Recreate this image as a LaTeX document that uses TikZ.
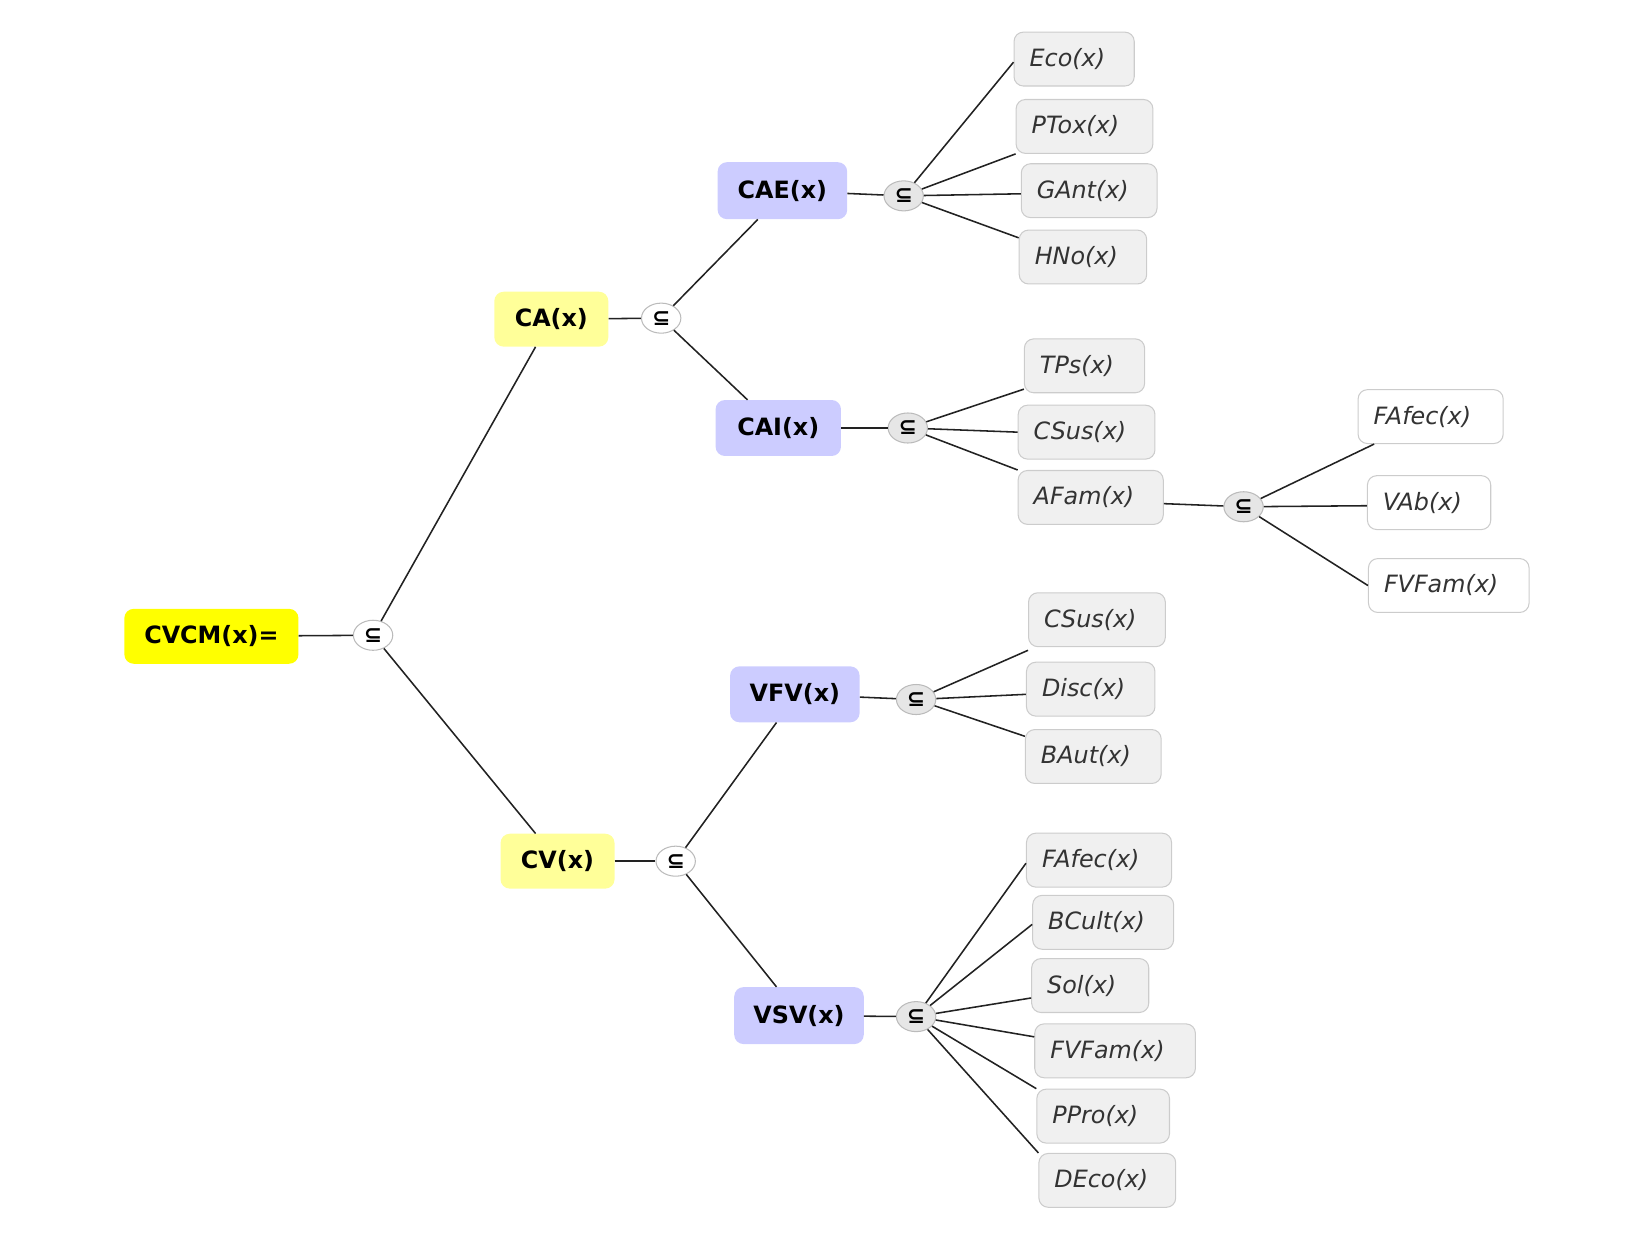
\documentclass[tikz,border=0pt]{standalone}
\usepackage{fontspec}
\setmainfont{DejaVu Sans}
\usetikzlibrary{shapes.geometric,calc}
\definecolor{yel}{HTML}{FFFF00}
\definecolor{lyel}{HTML}{FFFF99}
\definecolor{lblue}{HTML}{CCCCFF}
\definecolor{leafgray}{HTML}{F0F0F0}
\definecolor{leafline}{HTML}{CCCCCC}
\definecolor{jline}{HTML}{BBBBBB}
\definecolor{jgray}{HTML}{E6E6E6}
\definecolor{edgecol}{HTML}{222222}
\definecolor{txt}{HTML}{333333}
\tikzset{
  mainbox/.style={rounded corners=9pt, inner sep=0pt, font=\fontsize{23}{26}\selectfont\bfseries, text=black},
  rootbox/.style={mainbox, fill=yel, minimum width=168pt, minimum height=53pt},
  levone/.style={mainbox, fill=lyel, minimum width=110pt, minimum height=53pt},
  levtwo/.style={mainbox, fill=lblue, minimum height=54pt},
  leafbox/.style={draw=leafline, line width=1pt, fill=leafgray, rounded corners=9pt, minimum height=52pt,
    inner xsep=15pt, inner ysep=0pt, align=left, anchor=west, text=txt, font=\fontsize{23}{26}\selectfont\itshape},
  leafwhite/.style={leafbox, fill=white},
  junc/.style={ellipse, draw=jline, line width=1pt, fill=white, minimum width=38pt, minimum height=29pt, inner sep=0pt,
    font=\fontsize{21}{21}\selectfont\bfseries},
  juncg/.style={junc, fill=jgray},
  edge/.style={draw=edgecol, line width=1.5pt}
}
\begin{document}
\begin{tikzpicture}[x=1pt,y=-1pt]
\useasboundingbox (0,0) rectangle (1570,1213);
% main nodes
\node[rootbox] (cvcm) at (204,614) {CVCM(x)=};
\node[junc] (j0) at (360,613) {⊆};
\node[levone] (ca) at (532,308) {CA(x)};
\node[junc] (jca) at (638,307) {⊆};
\node[levone] (cv) at (538,831) {CV(x)};
\node[junc] (jcv) at (652,831) {⊆};
\node[levtwo, minimum width=125pt, minimum height=55pt] (cae) at (755,184) {CAE(x)};
\node[juncg] (jcae) at (872,189) {⊆};
\node[levtwo, minimum width=121pt] (cai) at (751,413) {CAI(x)};
\node[juncg] (jcai) at (876,413) {⊆};
\node[levtwo, minimum width=125pt] (vfv) at (767,670) {VFV(x)};
\node[juncg] (jvfv) at (884,675) {⊆};
\node[levtwo, minimum width=125pt, minimum height=55pt] (vsv) at (771,980) {VSV(x)};
\node[juncg] (jvsv) at (884,981) {⊆};
% leaves of CAE
\node[leafbox, text width=86pt] (eco) at (978,57) {Eco(x)};
\node[leafbox, text width=102pt] (ptox) at (980,122) {PTox(x)};
\node[leafbox, text width=101pt] (gant) at (985,184) {GAnt(x)};
\node[leafbox, text width=93pt] (hno) at (983,248) {HNo(x)};
% leaves of CAI
\node[leafbox, text width=86pt] (tps) at (988,353) {TPs(x)};
\node[leafbox, text width=102pt] (csusa) at (982,417) {CSus(x)};
\node[leafbox, text width=110pt] (afam) at (982,480) {AFam(x)};
\node[juncg] (jaf) at (1200,489) {⊆};
\node[leafwhite, text width=110pt] (fafeca) at (1310,402) {FAfec(x)};
\node[leafwhite, text width=89pt] (vab) at (1319,485) {VAb(x)};
\node[leafwhite, text width=125pt] (fvfama) at (1320,565) {FVFam(x)};
% leaves of VFV
\node[leafbox, text width=102pt] (csusb) at (992,598) {CSus(x)};
\node[leafbox, text width=94pt] (disc) at (990,665) {Disc(x)};
\node[leafbox, text width=101pt] (baut) at (989,730) {BAut(x)};
% leaves of VSV
\node[leafbox, text width=110pt] (fafecb) at (990,830) {FAfec(x)};
\node[leafbox, text width=106pt] (bcult) at (996,890) {BCult(x)};
\node[leafbox, text width=83pt] (sol) at (995,951) {Sol(x)};
\node[leafbox, text width=125pt] (fvfamb) at (998,1014) {FVFam(x)};
\node[leafbox, text width=98pt] (ppro) at (1000,1077) {PPro(x)};
\node[leafbox, text width=102pt] (deco) at (1002,1139) {DEco(x)};
% connectors
\draw[edge] (cvcm) -- (j0);
\draw[edge] (j0) -- ($(ca.south west)+(40,0)$);
\draw[edge] (j0) -- ($(cv.north west)+(34,0)$);
\draw[edge] (ca) -- (jca);
\draw[edge] (jca) -- ($(cae.south west)+(39,0)$);
\draw[edge] (jca) -- ($(cai.north west)+(31,0)$);
\draw[edge] (cv) -- (jcv);
\draw[edge] (jcv) -- ($(vfv.south west)+(45,0)$);
\draw[edge] (jcv) -- ($(vsv.north west)+(41,0)$);
\draw[edge] (cae) -- (jcae);
\draw[edge] (jcae) -- ($(eco.west)+(0,3)$);
\draw[edge] (jcae) -- (ptox.south west);
\draw[edge] (jcae) -- ($(gant.west)+(0,3)$);
\draw[edge] (jcae) -- ($(hno.north west)+(0,8)$);
\draw[edge] (cai) -- (jcai);
\draw[edge] (jcai) -- ($(tps.south west)+(0,-4)$);
\draw[edge] (jcai) -- (csusa.west);
\draw[edge] (jcai) -- (afam.north west);
\draw[edge] ($(afam.east)+(0,6)$) -- (jaf);
\draw[edge] (jaf) -- ($(fafeca.south west)+(16,0)$);
\draw[edge] (jaf) -- ($(vab.west)+(0,3)$);
\draw[edge] (jaf) -- (fvfama.west);
\draw[edge] (vfv) -- (jvfv);
\draw[edge] (jvfv) -- ($(csusb.south west)+(0,3)$);
\draw[edge] (jvfv) -- ($(disc.west)+(0,5)$);
\draw[edge] (jvfv) -- ($(baut.north west)+(0,7)$);
\draw[edge] (vsv) -- (jvsv);
\draw[edge] (jvsv) -- ($(fafecb.west)+(0,3)$);
\draw[edge] (jvsv) -- ($(bcult.west)+(0,2)$);
\draw[edge] (jvsv) -- ($(sol.west)+(0,12)$);
\draw[edge] (jvsv) -- ($(fvfamb.north west)+(0,13)$);
\draw[edge] (jvsv) -- (ppro.north west);
\draw[edge] (jvsv) -- (deco.north west);
\end{tikzpicture}
\end{document}
